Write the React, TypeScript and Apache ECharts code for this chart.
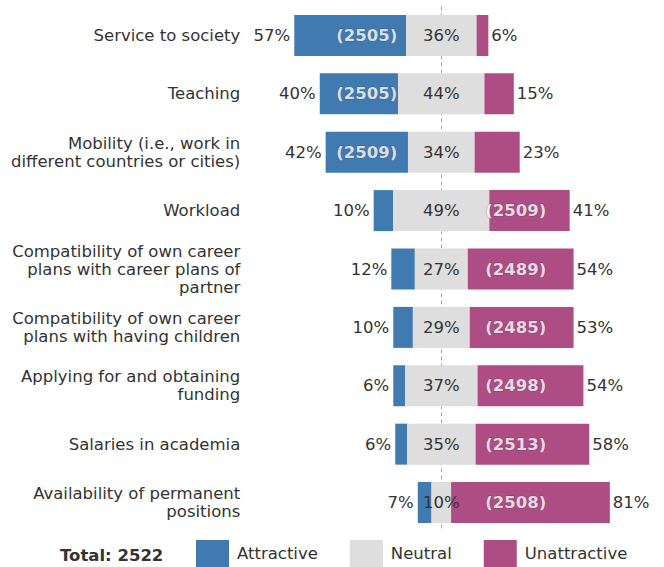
import React, { useEffect, useRef } from "react";
import * as echarts from "echarts";

const categories = [
  "Service to society",
  "Teaching",
  "Mobility (i.e., work in\ndifferent countries or cities)",
  "Workload",
  "Compatibility of own career\nplans with career plans of\npartner",
  "Compatibility of own career\nplans with having children",
  "Applying for and obtaining\nfunding",
  "Salaries in academia",
  "Availability of permanent\npositions",
];
const attractive = [57, 40, 42, 10, 12, 10, 6, 6, 7];
const neutral = [36, 44, 34, 49, 27, 29, 37, 35, 10];
const unattractive = [6, 15, 23, 41, 54, 53, 54, 58, 81];
const counts = [2505, 2505, 2509, 2509, 2489, 2485, 2498, 2513, 2508];
const total = 2522;

const FONT = "DejaVu Sans";
const FS = 16.5;
const TEXT = "#333333";
const BLUE = "#417ab0";
const GREY = "#dedede";
const MAGENTA = "#ae4c84";

export default function App() {
  const ref = useRef<HTMLDivElement>(null);
  useEffect(() => {
    document.body.style.margin = "0";
    const chart = echarts.init(ref.current!, undefined, { renderer: "svg" });
    const CENTER = 100;
    const base = attractive.map((a, i) => CENTER - a - neutral[i] / 2);
    const countData = counts.map((c, i) => ({
      value: [attractive[i] >= unattractive[i] ? CENTER - 38 : CENTER + 38, i],
      count: c,
    }));
    chart.setOption({
      animation: false,
      textStyle: { fontFamily: FONT },
      grid: { left: 245.3, right: 26.7, top: 6.3, bottom: 35.3, containLabel: false },
      xAxis: {
        type: "value",
        min: 0,
        max: 200,
        show: false,
      },
      yAxis: {
        type: "category",
        data: categories,
        inverse: true,
        axisLine: { show: false },
        axisTick: { show: false },
        splitLine: { show: false },
        axisLabel: {
          fontFamily: FONT,
          fontSize: FS,
          color: TEXT,
          lineHeight: 18,
          margin: 5,
          align: "right",
        },
      },
      legend: {
        data: ["Attractive", "Neutral", "Unattractive"],
        left: 191,
        top: 535,
        itemWidth: 33,
        itemHeight: 27,
        itemGap: 32,
        icon: "rect",
        textStyle: { fontFamily: FONT, fontSize: FS, color: TEXT, padding: [5, 0, 0, 3] },
        selectedMode: false,
      },
      graphic: [
        {
          type: "text",
          left: 60,
          top: 547,
          style: {
            text: `Total: ${total}`,
            font: `bold ${FS}px "${FONT}"`,
            fill: TEXT,
          },
        },
      ],
      series: [
        {
          name: "base",
          type: "bar",
          stack: "a",
          data: base,
          barWidth: 41,
          silent: true,
          z: 1,
          itemStyle: { color: "transparent" },
          markLine: {
            silent: true,
            z: 1,
            symbol: "none",
            label: { show: false },
            lineStyle: { color: "#aaaaaa", type: [4, 3], width: 1 },
            data: [{ xAxis: CENTER }],
          },
        },
        {
          name: "Attractive",
          type: "bar",
          stack: "a",
          data: attractive,
          barWidth: 41,
          z: 3,
          itemStyle: { color: BLUE },
          label: {
            show: true,
            position: "left",
            distance: 4,
            formatter: "{c}%",
            fontFamily: FONT,
            fontSize: FS,
            color: TEXT,
          },
        },
        {
          name: "Neutral",
          type: "bar",
          stack: "a",
          data: neutral,
          barWidth: 41,
          z: 3,
          itemStyle: { color: GREY },
          label: {
            show: true,
            position: "inside",
            formatter: "{c}%",
            fontFamily: FONT,
            fontSize: FS,
            color: TEXT,
          },
        },
        {
          name: "Unattractive",
          type: "bar",
          stack: "a",
          data: unattractive,
          barWidth: 41,
          z: 3,
          itemStyle: { color: MAGENTA },
          label: {
            show: true,
            position: "right",
            distance: 3,
            formatter: "{c}%",
            fontFamily: FONT,
            fontSize: FS,
            color: TEXT,
          },
        },
        {
          name: "counts",
          type: "scatter",
          data: countData,
          symbolSize: 1,
          silent: true,
          z: 6,
          itemStyle: { color: "transparent" },
          label: {
            show: true,
            position: "inside",
            formatter: (p: any) => `(${p.data.count})`,
            fontFamily: FONT,
            fontWeight: "bold",
            fontSize: FS,
            color: "#ffffff",
            textBorderColor: "rgba(50,50,50,0.45)",
            textBorderWidth: 1,
          },
        },
      ],
    });
    return () => chart.dispose();
  }, []);
  return <div ref={ref} style={{ width: 664, height: 567 }} />;
}
